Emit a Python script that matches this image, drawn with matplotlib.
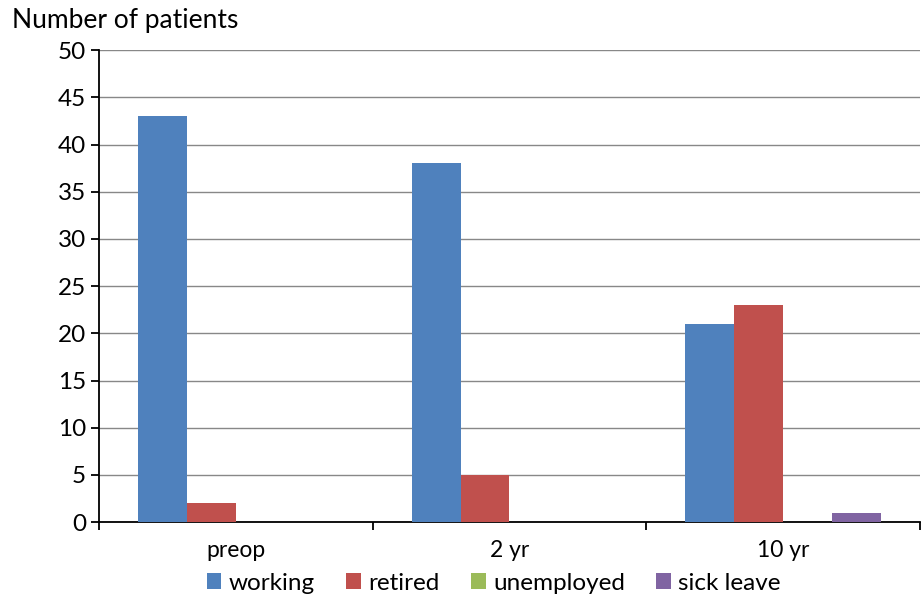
import numpy as np
import matplotlib
matplotlib.use("Agg")
import matplotlib.pyplot as plt

# data
groups = ["preop", "2 yr", "10 yr"]
series = ["working", "retired", "unemployed", "sick leave"]
working = [43, 38, 21]
retired = [2, 5, 23]
unemployed = [0, 0, 0]
sick_leave = [0, 0, 1]
colours = ["#4F81BD", "#C0504D", "#9BBB59", "#8064A2"]

plt.rcParams['font.family'] = ['Lato', 'DejaVu Sans']

fig = plt.figure(figsize=(9.23, 5.98), dpi=100)
ax = fig.add_axes([0.107, 0.127, 0.890, 0.789])

x = np.arange(len(groups))
w = 49 / 274
gap = 39 / 274
allvals = [working, retired, unemployed, sick_leave]
for i, (name, vals) in enumerate(zip(series, allvals)):
    off = -0.5 + gap + w * (i + 0.5)
    ax.bar(x + off, vals, width=w, color=colours[i], label=name, zorder=3)

ax.set_xlim(-0.5, 2.5)
ax.set_ylim(0, 50)
ax.set_yticks(np.arange(0, 51, 5))
ax.yaxis.grid(True, color="#888888", linewidth=1.0, zorder=0)

ax.set_xticks([-0.5, 0.5, 1.5, 2.5])
ax.set_xticklabels([])
ax.set_xticks(x, minor=True)
ax.set_xticklabels(groups, minor=True)
ax.tick_params(axis="x", which="minor", length=0, pad=13, labelsize=16.5)
ax.tick_params(axis="x", which="major", length=6, width=1.3, direction="out")
ax.tick_params(axis="y", length=6, width=1.3, direction="out", labelsize=17.5, pad=3)

for s in ["top", "right"]:
    ax.spines[s].set_visible(False)
ax.spines["left"].set_linewidth(1.3)
ax.spines["bottom"].set_linewidth(1.3)

fig.text(0.013, 0.965, "Number of patients", fontsize=19, va="center", ha="left")

fig.legend(loc="center", bbox_to_anchor=(0.535, 0.025), ncol=4, frameon=False,
           fontsize=17.5, handlelength=0.6, handleheight=0.6, handletextpad=0.3,
           columnspacing=1.3)

fig.savefig("out.png", dpi=100)
